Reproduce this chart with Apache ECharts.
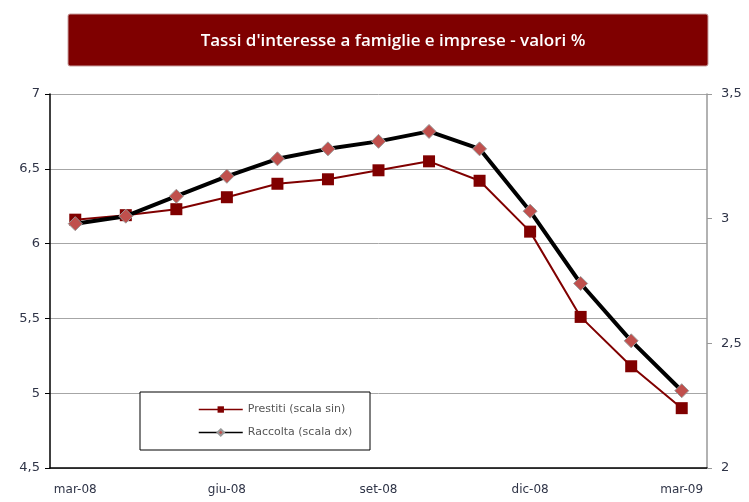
<!DOCTYPE html>
<html>
<head>
<meta charset="utf-8">
<script src="https://cdn.jsdelivr.net/npm/echarts@6/dist/echarts.min.js"></script>
<style>
  html, body { margin: 0; padding: 0; background: #fff; }
  #chart { width: 749px; height: 502px; }
</style>
</head>
<body>
<div id="chart"></div>
<script>
// mesi (categorie asse x)
var months = ['mar-08', 'apr-08', 'mag-08', 'giu-08', 'lug-08', 'ago-08', 'set-08',
  'ott-08', 'nov-08', 'dic-08', 'gen-09', 'feb-09', 'mar-09']

// tassi sui prestiti (scala sinistra)
var prestiti = [6.16, 6.19, 6.23, 6.31, 6.40, 6.43, 6.49, 6.55, 6.42, 6.08, 5.51, 5.18, 4.90]

// tassi sulla raccolta (scala destra)
var raccolta = [2.98, 3.01, 3.09, 3.17, 3.24, 3.28, 3.31, 3.35, 3.28, 3.03, 2.74, 2.51, 2.31]

var chartTitle = "Tassi d'interesse a famiglie e imprese - valori %"

function commaFmt(v) {
  return String(v).replace('.', ',')
}

var chart = echarts.init(document.getElementById('chart'))

var labelStyle = {
  color: '#2f3447',
  fontFamily: 'DejaVu Sans',
  fontSize: 13,
  formatter: commaFmt
}

chart.setOption({
  animation: false,
  graphic: [
    {
      type: 'rect',
      shape: { x: 68, y: 14, width: 640, height: 52, r: 2 },
      style: { fill: '#7f0000', stroke: '#c9a0a0', lineWidth: 1 },
      z: 0
    },
    {
      type: 'rect',
      shape: { x: 140, y: 392, width: 230, height: 58 },
      style: { fill: '#fff', stroke: '#000', lineWidth: 1 },
      z: 5
    }
  ],
  title: {
    text: chartTitle,
    left: 388,
    top: 28,
    textAlign: 'center',
    textStyle: {
      color: '#fff',
      fontFamily: 'Open Sans',
      fontWeight: 600,
      fontSize: 17
    },
    z: 10
  },
  legend: {
    orient: 'vertical',
    left: 193,
    top: 399,
    itemWidth: 44,
    itemHeight: 8,
    itemGap: 12,
    z: 10,
    textStyle: { color: '#555', fontFamily: 'DejaVu Sans', fontSize: 11 },
    data: [
      { name: 'Prestiti (scala sin)', lineStyle: { width: 1.5 } },
      { name: 'Raccolta (scala dx)', lineStyle: { width: 1.5 } }
    ]
  },
  grid: { left: 50, right: 42, top: 94, bottom: 34 },
  xAxis: {
    type: 'category',
    data: months,
    boundaryGap: true,
    axisLine: { lineStyle: { color: '#000', width: 1.5 } },
    axisTick: { interval: 2, length: 6, lineStyle: { color: '#000' } },
    axisLabel: {
      interval: 2,
      color: '#2f3447',
      fontFamily: 'DejaVu Sans',
      fontSize: 12,
      margin: 16
    },
    splitLine: { show: false }
  },
  yAxis: [
    {
      type: 'value',
      min: 4.5,
      max: 7,
      interval: 0.5,
      axisLine: { show: true, lineStyle: { color: '#000', width: 1.5 } },
      axisTick: { show: true, length: 5, lineStyle: { color: '#000' } },
      axisLabel: Object.assign({ margin: 10 }, labelStyle),
      splitLine: { show: true, lineStyle: { color: '#a6a6a6', width: 1 } }
    },
    {
      type: 'value',
      min: 2,
      max: 3.5,
      interval: 0.5,
      position: 'right',
      axisLine: { show: true, lineStyle: { color: '#999', width: 1.5 } },
      axisTick: { show: true, length: 5, lineStyle: { color: '#999' } },
      axisLabel: Object.assign({ margin: 14 }, labelStyle),
      splitLine: { show: false }
    }
  ],
  series: [
    {
      name: 'Prestiti (scala sin)',
      type: 'line',
      yAxisIndex: 0,
      data: prestiti,
      symbol: 'rect',
      symbolSize: 12,
      lineStyle: { color: '#800000', width: 2 },
      itemStyle: { color: '#800000' },
      z: 2
    },
    {
      name: 'Raccolta (scala dx)',
      type: 'line',
      yAxisIndex: 1,
      data: raccolta,
      symbol: 'diamond',
      symbolSize: 14,
      lineStyle: { color: '#000', width: 4 },
      itemStyle: { color: '#c0504d', borderColor: '#999', borderWidth: 1 },
      z: 3
    }
  ]
})
</script>
</body>
</html>
